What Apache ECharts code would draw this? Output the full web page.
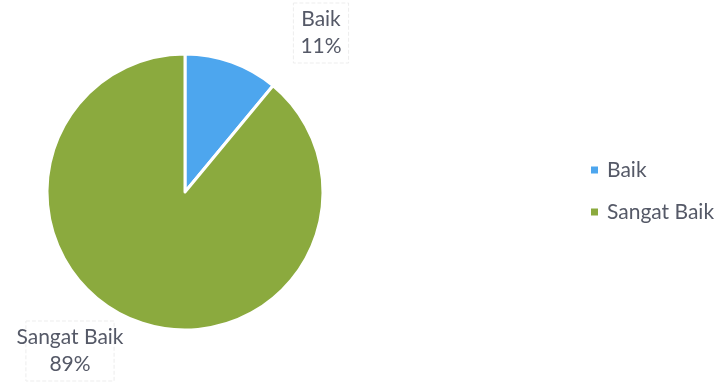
<!DOCTYPE html>
<html>
<head>
<meta charset="utf-8">
<script src="https://cdn.jsdelivr.net/npm/echarts@6/dist/echarts.min.js"></script>
<style>
  html, body { margin: 0; padding: 0; background: #ffffff; }
  #chart { width: 725px; height: 383px; }
</style>
</head>
<body>
<div id="chart"></div>
<script>
// Rating categories and their share (percent)
const categories = ['Baik', 'Sangat Baik'];
const values = [11, 89];
const colors = ['#4DA6EE', '#8BAA3E'];

// Label anchor points (centre of each label box)
const labelSpots = [[321, 33], [70, 351]];

const textColor = '#555967';

const chart = echarts.init(document.getElementById('chart'));
chart.setOption({
  animation: false,
  color: colors,
  legend: {
    orient: 'vertical',
    left: 584,
    top: 152,
    itemWidth: 9,
    itemHeight: 9,
    itemGap: 16,
    icon: 'rect',
    textStyle: { fontFamily: 'Lato', fontSize: 21, lineHeight: 26, color: textColor, padding: [0, 0, 0, 3] },
    data: categories
  },
  series: [{
    type: 'pie',
    center: [185, 192],
    radius: 138,
    startAngle: 90,
    clockwise: true,
    itemStyle: { borderColor: '#ffffff', borderWidth: 3 },
    label: {
      show: true,
      position: 'outside',
      formatter: '{b}\n{d}%',
      fontFamily: 'Lato',
      fontSize: 21,
      lineHeight: 27,
      color: textColor,
      align: 'center',
      overflow: 'none',
      borderColor: '#ededed',
      borderWidth: 1,
      borderType: 'dashed',
      padding: [3, 7, 3, 7]
    },
    labelLine: { show: false },
    labelLayout: function (params) {
      const p = labelSpots[params.dataIndex];
      return { x: p[0], y: p[1], align: 'center', verticalAlign: 'middle' };
    },
    data: categories.map((name, i) => ({ name: name, value: values[i] }))
  }]
});
</script>
</body>
</html>
